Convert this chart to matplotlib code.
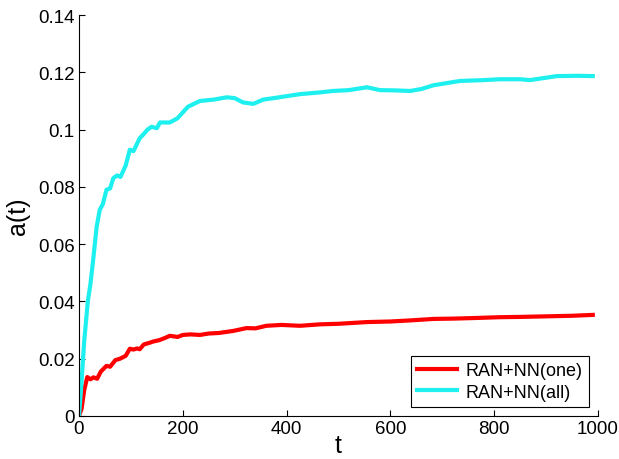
import numpy as np
import matplotlib
matplotlib.use('Agg')
import matplotlib.pyplot as plt

plt.rcParams['font.family'] = ['Liberation Sans', 'DejaVu Sans']

# values
t_one = [0, 5, 10, 16, 22, 28, 35, 42, 53, 60, 70, 79, 90, 98, 105, 112, 117,
         125, 135, 143, 155, 165, 175, 190, 200, 215, 233, 250, 270, 297, 310,
         323, 340, 361, 390, 426, 464, 500, 555, 600, 640, 683, 720, 760, 811,
         850, 900, 950, 990]
a_one = [0.0, 0.0025, 0.009, 0.0136, 0.0128, 0.0135, 0.013, 0.0155, 0.0175,
         0.0172, 0.0195, 0.020, 0.021, 0.0235, 0.0232, 0.0236, 0.0233, 0.025,
         0.0255, 0.026, 0.0265, 0.0272, 0.028, 0.0276, 0.0283, 0.0285, 0.0283,
         0.0288, 0.029, 0.0297, 0.0302, 0.0307, 0.0306, 0.0315, 0.0318,
         0.0315, 0.032, 0.0322, 0.0328, 0.033, 0.0334, 0.0339, 0.034, 0.0342,
         0.0345, 0.0346, 0.0348, 0.035, 0.0353]

t_all = [0, 5, 10, 17, 22, 27, 34, 40, 46, 53, 60, 66, 73, 80, 90, 98, 105,
         117, 125, 132, 140, 150, 156, 162, 175, 190, 210, 233, 260, 285, 300,
         316, 336, 355, 375, 426, 464, 489, 520, 555, 580, 610, 638, 660, 683,
         734, 780, 811, 850, 869, 921, 960, 990]
a_all = [0.0, 0.012, 0.026, 0.040, 0.046, 0.054, 0.066, 0.072, 0.074, 0.079,
         0.0795, 0.083, 0.084, 0.0835, 0.0875, 0.093, 0.0925, 0.097, 0.0985,
         0.1, 0.101, 0.1005, 0.1025, 0.1025, 0.1025, 0.104, 0.108, 0.110,
         0.1105, 0.1113, 0.111, 0.1095, 0.109, 0.1105, 0.111, 0.1124, 0.113,
         0.1135, 0.1138, 0.1148, 0.1138, 0.1137, 0.1135, 0.1142, 0.1155,
         0.117, 0.1173, 0.1176, 0.1176, 0.1173, 0.1187, 0.1188, 0.1187]

labels = ['RAN+NN(one)', 'RAN+NN(all)']

fig = plt.figure(figsize=(6.19, 4.6), dpi=100)
ax = fig.add_axes([0.1276, 0.0935, 0.8384, 0.8715])

ax.plot(t_one, a_one, color='#ff0000', lw=3, label=labels[0])
ax.plot(t_all, a_all, color='#1ef0f0', lw=3, label=labels[1])

ax.set_xlim(0, 1000)
ax.set_ylim(0, 0.14)
ax.set_xticks(np.arange(0, 1001, 200))
ax.set_yticks(np.arange(0, 0.141, 0.02))
ax.set_yticklabels(['0', '0.02', '0.04', '0.06', '0.08', '0.1', '0.12', '0.14'])

ax.spines['top'].set_visible(False)
ax.spines['right'].set_visible(False)
ax.tick_params(direction='in', length=4, labelsize=13.5, pad=3)

ax.set_xlabel('t', fontsize=18, labelpad=-3)
ax.set_ylabel('a(t)', fontsize=18, labelpad=6)

leg = ax.legend(loc='lower right', fontsize=13, fancybox=False,
                edgecolor='black', framealpha=1, handlelength=2.2,
                borderaxespad=0.5, borderpad=0.35, labelspacing=0.25,
                handletextpad=0.5)
leg.get_frame().set_linewidth(0.8)

fig.savefig('out.png', dpi=100)
